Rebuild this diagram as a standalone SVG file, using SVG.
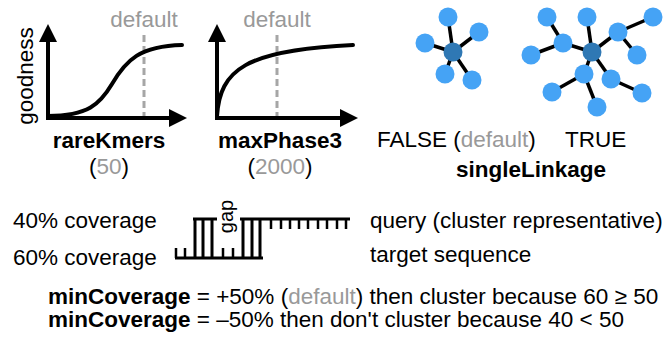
<svg xmlns="http://www.w3.org/2000/svg" width="667" height="339" viewBox="0 0 667 339">
<style>
text{font-family:"Liberation Sans",Arial,sans-serif;font-size:22.5px;fill:#000}
.b{font-weight:bold}
.g{fill:#999}
.m{text-anchor:middle}
.ax{stroke:#000;stroke-width:4;fill:none}
.cv{stroke:#000;stroke-width:4;fill:none;stroke-linecap:round}
.dash{stroke:#a6a6a6;stroke-width:3;stroke-dasharray:7 4;fill:none}
.e{stroke:#000;stroke-width:3.5}
.n{fill:#45a3f5}
.c{fill:#2f78b4}
.al{stroke:#000;stroke-width:3;fill:none}
.tk{stroke:#000;stroke-width:2.5;fill:none}
</style>
<defs>
<marker id="ah" viewBox="0 0 10 10" refX="0" refY="5" markerWidth="4.5" markerHeight="4.5" orient="auto" markerUnits="strokeWidth">
<path d="M0,0 L10,5 L0,10 z" fill="#000"/>
</marker>
</defs>

<g id="chart-rareKmers">
<path class="ax" d="M48,118 V42" marker-end="url(#ah)"/>
<path class="ax" d="M46,118 H169" marker-end="url(#ah)"/>
<line class="dash" x1="144" y1="35" x2="144" y2="116"/>
<path class="cv" d="M48,116 C88,116 100,104 112,84 C126,60 140,46 182,45"/>
<text class="g m" x="144" y="27">default</text>
<text class="m" transform="translate(33,76) rotate(-90)">goodness</text>
<text class="b m" x="109" y="148">rareKmers</text>
<text class="m" x="109" y="174">(<tspan class="g">50</tspan>)</text>
</g>

<g id="chart-maxPhase3">
<path class="ax" d="M217,118 V42" marker-end="url(#ah)"/>
<path class="ax" d="M215,118 H340" marker-end="url(#ah)"/>
<line class="dash" x1="277" y1="35" x2="277" y2="116"/>
<path class="cv" d="M217,116 C220,70 245,50 353,45"/>
<text class="g m" x="277" y="27">default</text>
<text class="b m" x="280" y="148">maxPhase3</text>
<text class="m" x="280" y="174">(<tspan class="g">2000</tspan>)</text>
</g>

<g id="network-false">
<g class="e">
<line x1="453" y1="52" x2="448" y2="17"/>
<line x1="453" y1="52" x2="479" y2="32"/>
<line x1="453" y1="52" x2="425" y2="43"/>
<line x1="453" y1="52" x2="445" y2="74"/>
<line x1="453" y1="52" x2="472" y2="80"/>
</g>
<circle class="n" cx="448" cy="17" r="9.5"/>
<circle class="n" cx="479" cy="32" r="9.5"/>
<circle class="n" cx="425" cy="43" r="9.5"/>
<circle class="n" cx="445" cy="74" r="9.5"/>
<circle class="n" cx="472" cy="80" r="9.5"/>
<circle class="c" cx="453" cy="52" r="9.5"/>
</g>

<g id="network-true">
<g class="e">
<line x1="592" y1="52" x2="587" y2="17"/>
<line x1="592" y1="52" x2="563" y2="43"/>
<line x1="563" y1="43" x2="547" y2="17"/>
<line x1="563" y1="43" x2="531" y2="55"/>
<line x1="592" y1="52" x2="618" y2="32"/>
<line x1="618" y1="32" x2="653" y2="17"/>
<line x1="618" y1="32" x2="637" y2="55"/>
<line x1="592" y1="52" x2="584" y2="74"/>
<line x1="584" y1="74" x2="552" y2="92"/>
<line x1="584" y1="74" x2="597" y2="107"/>
<line x1="592" y1="52" x2="611" y2="79"/>
<line x1="611" y1="79" x2="642" y2="93"/>
</g>
<circle class="n" cx="587" cy="17" r="9.5"/>
<circle class="n" cx="563" cy="43" r="9.5"/>
<circle class="n" cx="547" cy="17" r="9.5"/>
<circle class="n" cx="531" cy="55" r="9.5"/>
<circle class="n" cx="618" cy="32" r="9.5"/>
<circle class="n" cx="653" cy="17" r="9.5"/>
<circle class="n" cx="637" cy="55" r="9.5"/>
<circle class="n" cx="584" cy="74" r="9.5"/>
<circle class="n" cx="552" cy="92" r="9.5"/>
<circle class="n" cx="597" cy="107" r="9.5"/>
<circle class="n" cx="611" cy="79" r="9.5"/>
<circle class="n" cx="642" cy="93" r="9.5"/>
<circle class="c" cx="592" cy="52" r="9.5"/>
</g>

<g id="labels-singleLinkage">
<text x="377" y="147">FALSE (<tspan class="g">default</tspan>)</text>
<text x="565" y="147">TRUE</text>
<text class="b" x="456" y="177">singleLinkage</text>
</g>

<g id="alignment">
<path class="al" d="M193,219 H217 M240,219 H350 M175,258 H263"/>
<path class="al" d="M195,219 V258 M203,219 V258 M212,219 V258 M243,219 V258 M252,219 V258 M260,219 V258"/>
<path class="tk" d="M176,258 V248 M185,258 V248 M223,258 V248 M233,258 V248"/>
<path class="tk" d="M271,219 V229 M281,219 V229 M290,219 V229 M299,219 V229 M308,219 V229 M318,219 V229 M327,219 V229 M337,219 V229 M346,219 V229"/>
<text class="m" transform="translate(233,216.5) rotate(-90)" style="font-size:20px">gap</text>
</g>

<g id="alignment-labels">
<text x="13" y="228">40% coverage</text>
<text x="13" y="265">60% coverage</text>
<text x="370" y="228">query (cluster representative)</text>
<text x="370" y="262">target sequence</text>
</g>

<g id="minCoverage-notes">
<text x="48" y="304"><tspan class="b">minCoverage</tspan> = +50% (<tspan class="g">default</tspan>) then cluster because 60 ≥ 50</text>
<text x="48" y="327"><tspan class="b">minCoverage</tspan> = –50% then don't cluster because 40 &lt; 50</text>
</g>
</svg>
